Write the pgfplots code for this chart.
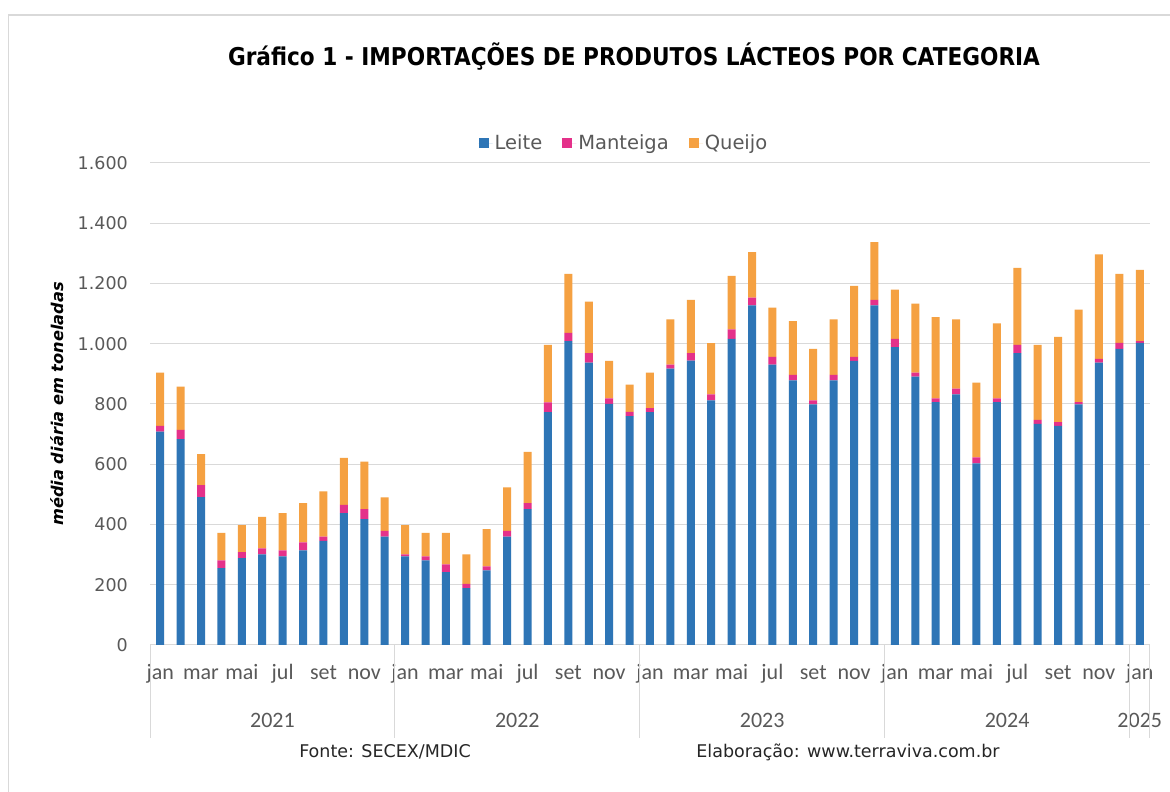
\documentclass[border=0pt]{standalone}
\usepackage{fontspec}
\setmainfont{DejaVu Sans}
\newfontfamily\calib{Carlito}
\usepackage{graphicx}
\usepackage{pgfplots}
\usepackage{pgfplotstable}
\pgfplotsset{compat=1.18}
\definecolor{leite}{HTML}{2E75B6}
\definecolor{mant}{HTML}{E4318A}
\definecolor{queijo}{HTML}{F5A142}
\definecolor{tickgray}{HTML}{595959}
\definecolor{gridgray}{HTML}{D9D9D9}
\pgfplotstableread{
x L M Q
0 708 19 177
1 683 31 144
2 491 40 103
3 255 26 91
4 288 20 90
5 301 20 104
6 294 20 124
7 314 27 130
8 346 14 150
9 438 27 156
10 418 33 158
11 360 19 111
12 294 7 97
13 281 13 78
14 242 26 104
15 189 14 98
16 248 13 124
17 360 19 144
18 451 20 170
19 773 32 191
20 1009 27 196
21 937 32 171
22 800 19 124
23 760 14 90
24 773 13 118
25 917 14 150
26 944 25 177
27 812 20 170
28 1016 32 177
29 1127 26 151
30 931 25 164
31 878 19 178
32 799 13 171
33 878 19 184
34 943 13 236
35 1127 19 191
36 989 27 164
37 891 13 229
38 806 13 269
39 832 19 230
40 603 20 248
41 806 13 249
42 969 27 256
43 734 13 249
44 727 13 283
45 799 7 307
46 937 13 347
47 983 20 229
48 1003 6 236
}\data
\begin{document}
\begin{tikzpicture}[x=1pt,y=1pt]
\path[use as bounding box, fill=white] (0,0) rectangle (1170,792);
\draw[gridgray, line width=1.5pt] (8.5,0) -- (8.5,777) -- (1170,777);
\node[anchor=base] at (634,726) {\resizebox{812pt}{\height}{\fontsize{24.5}{28}\selectfont\bfseries Gráfico 1 - IMPORTAÇÕES DE PRODUTOS LÁCTEOS POR CATEGORIA}};
\node[rotate=90, font=\fontsize{16.2}{19}\selectfont\bfseries\itshape] at (57,388) {média diária em toneladas};
\node[anchor=base, font=\fontsize{17.5}{20}\selectfont, text=black!85] at (385,34) {Fonte: SECEX/MDIC};
\node[anchor=base, font=\fontsize{17.5}{20}\selectfont, text=black!85] at (848,34) {Elaboração: www.terraviva.com.br};
\begin{axis}[
  at={(150pt,147pt)}, anchor=south west,
  scale only axis, width=1000pt, height=482pt,
  xmin=-0.5, xmax=48.5, ymin=0, ymax=1600,
  ybar stacked, bar width=8pt,
  clip=false,
  axis line style={draw=none},
  major tick length=0pt,
  ymajorgrids, grid style={gridgray, line width=1pt},
  ytick={0,200,...,1600},
  /pgf/number format/1000 sep={.},
  /pgf/number format/assume math mode=true,
  yticklabel style={anchor=east, inner sep=0pt, xshift=-22pt, font=\fontsize{17.5}{20}\selectfont, text=tickgray},
  xtick={0,2,...,48},
  xticklabels={jan,mar,mai,jul,set,nov,jan,mar,mai,jul,set,nov,jan,mar,mai,jul,set,nov,jan,mar,mai,jul,set,nov,jan},
  xticklabel style={anchor=base, inner sep=0pt, yshift=-35pt, font=\calib\fontsize{22}{26}\selectfont, text=tickgray},
  legend style={at={(0.474,1.041)}, anchor=center, draw=none, fill=none, legend columns=3,
    font=\fontsize{19.5}{22}\selectfont, text=tickgray,
    /tikz/every even column/.append style={column sep=18pt}},
  legend image code/.code={\fill[#1, draw=none] (0pt,-5pt) rectangle (10pt,5pt);\path (0pt,0pt) -- (14pt,0pt);},
]
\addplot[fill=leite, draw=none] table[x=x, y=L]{\data};
\addplot[fill=mant, draw=none] table[x=x, y=M]{\data};
\addplot[fill=queijo, draw=none] table[x=x, y=Q]{\data};
\legend{Leite, Manteiga, Queijo}
\foreach \s in {-0.5,11.5,23.5,35.5,47.5,48.5} {
  \edef\tmp{\noexpand\draw[gridgray, line width=1pt] (axis cs:\s,0) -- ++(0pt,-93pt);}\tmp
}
\foreach \yy/\xx in {2021/5.5,2022/17.5,2023/29.5,2024/41.5,2025/48} {
  \edef\tmp{\noexpand\node[anchor=base, inner sep=0pt, yshift=-83pt, font=\noexpand\calib\noexpand\fontsize{22}{26}\noexpand\selectfont, text=tickgray] at (axis cs:\xx,0) {\yy};}\tmp
}
\end{axis}
\end{tikzpicture}
\end{document}
